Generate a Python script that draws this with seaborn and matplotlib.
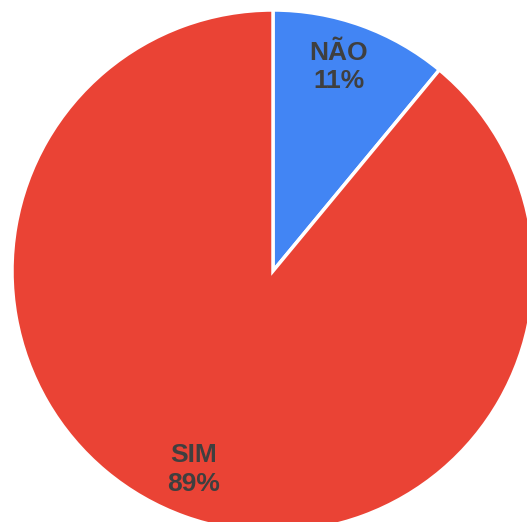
import matplotlib
matplotlib.use("Agg")
import matplotlib.pyplot as plt
import seaborn as sns

categories = ["NÃO", "SIM"]
values = [11, 89]
colors = ["#4285F4", "#EA4335"]

sns.set_theme(style="white")
plt.rcParams["font.family"] = ["Liberation Sans", "DejaVu Sans"]

W, H = 527, 522
fig = plt.figure(figsize=(W / 100, H / 100), dpi=100)
fig.patch.set_facecolor("white")

# pie centre and radius in pixels (from top-left)
cx, cy, r = 273, 271, 261
ax = fig.add_axes([(cx - r) / W, (H - cy - r) / H, 2 * r / W, 2 * r / H])
ax.set_xlim(-1, 1)
ax.set_ylim(-1, 1)
ax.set_aspect("equal")
ax.axis("off")

label_iter = iter(categories)


def fmt(pct):
    return f"{next(label_iter)}\n{round(pct):d}%"


wedges, texts, autotexts = ax.pie(
    values,
    colors=colors,
    startangle=90,
    counterclock=False,
    radius=1,
    autopct=fmt,
    pctdistance=0.82,
    wedgeprops=dict(edgecolor="white", linewidth=2.5),
    textprops=dict(color="#3f3f3f", fontsize=19, fontweight="bold",
                   ha="center", va="center", linespacing=1.25),
)
# nudge labels slightly toward the left, as drawn by the chart tool
for t in autotexts:
    x, y = t.get_position()
    t.set_position((x - 0.025, y + 0.01))

ax.set_xlim(-1, 1)
ax.set_ylim(-1, 1)

fig.savefig("out.png", dpi=100, facecolor="white")
